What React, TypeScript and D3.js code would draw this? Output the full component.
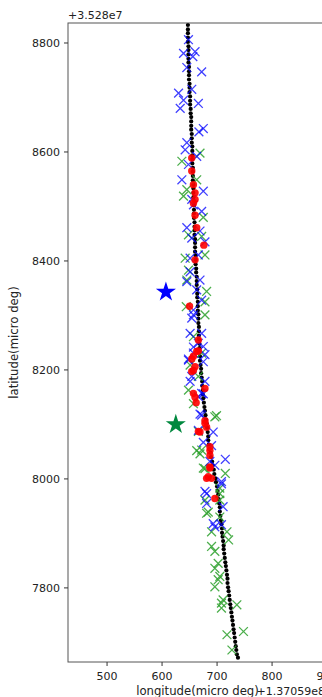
import * as d3 from 'd3';

const W = 322;
const H = 697;
const [mt, ml] = [23, 68];
const axRight = 329;
const axBottom = 662;

// track (black dots), offset from +1.37059e8 / +3.528e7
const trackLat = [
  8833, 8825, 8818, 8810, 8802, 8794, 8787, 8779, 8771, 8764, 8756, 8748, 8741, 8733, 8725, 8718, 8710, 8702, 8694, 8687,
  8679, 8671, 8664, 8656, 8648, 8641, 8633, 8625, 8617, 8610, 8602, 8594, 8587, 8579, 8571, 8564, 8556, 8548, 8540, 8533,
  8525, 8517, 8510, 8502, 8494, 8487, 8479, 8471, 8463, 8456, 8448, 8440, 8433, 8425, 8417, 8410, 8402, 8394, 8386, 8379,
  8371, 8363, 8356, 8348, 8340, 8333, 8325, 8317, 8309, 8302, 8294, 8286, 8279, 8271, 8263, 8256, 8248, 8240, 8232, 8225,
  8217, 8209, 8202, 8194, 8186, 8179, 8171, 8163, 8155, 8148, 8140, 8132, 8125, 8117, 8109, 8102, 8094, 8086, 8078, 8071,
  8063, 8055, 8048, 8040, 8032, 8025, 8017, 8009, 8001, 7994, 7986, 7978, 7971, 7963, 7955, 7948, 7940, 7932, 7924, 7917,
  7909, 7901, 7894, 7886, 7878, 7871, 7863, 7855, 7847, 7840, 7832, 7824, 7817, 7809, 7801, 7794, 7786, 7778, 7770, 7763,
  7755, 7747, 7740, 7732, 7724, 7717, 7709, 7701, 7693, 7686, 7678, 7672,
];
const trackLon = [
  647, 647, 647, 647, 647, 648, 648, 648, 648, 648, 649, 649, 649, 649, 650, 650, 650, 651, 651, 651,
  652, 652, 653, 653, 653, 653, 654, 654, 654, 655, 655, 655, 655, 655, 656, 656, 656, 656, 657, 657,
  657, 657, 658, 658, 658, 658, 658, 659, 659, 659, 659, 660, 660, 660, 660, 661, 661, 661, 662, 662,
  663, 663, 663, 664, 664, 664, 665, 665, 665, 666, 666, 666, 667, 667, 667, 667, 668, 668, 668, 669,
  669, 670, 671, 671, 672, 673, 673, 674, 674, 675, 676, 677, 678, 679, 680, 681, 682, 683, 684, 684,
  685, 686, 688, 689, 691, 692, 694, 695, 697, 698, 700, 701, 702, 703, 704, 705, 705, 706, 707, 708,
  709, 709, 710, 711, 712, 712, 713, 714, 715, 716, 717, 718, 719, 719, 720, 721, 722, 723, 724, 725,
  726, 727, 728, 729, 730, 731, 732, 733, 734, 735, 736, 738,
];

const blueX: [number, number][] = [
  [648, 8806], [639, 8781], [660, 8784], [656, 8775], [645, 8755], [672, 8747], [654, 8715], [630, 8708],
  [639, 8695], [633, 8680], [666, 8689], [675, 8643], [667, 8637], [645, 8617], [642, 8604], [663, 8592],
  [648, 8577], [636, 8549], [675, 8528], [654, 8513], [657, 8503], [672, 8491], [645, 8461], [669, 8455],
  [654, 8442], [678, 8435], [651, 8405], [666, 8411], [651, 8380], [645, 8362], [669, 8365], [663, 8347],
  [672, 8328], [657, 8310], [657, 8301], [654, 8295], [651, 8267], [672, 8267], [666, 8249], [675, 8243],
  [657, 8231], [678, 8228], [648, 8218], [675, 8215], [654, 8188], [651, 8179], [678, 8179], [672, 8157],
  [666, 8151], [657, 8242], [648, 8220], [675, 8156], [669, 8119], [693, 8086], [666, 8089], [675, 8067],
  [690, 8061], [672, 8117], [687, 8032], [715, 8036], [708, 7995], [678, 7977], [681, 7955], [711, 7949],
  [696, 7912], [708, 7916], [696, 8025], [708, 7991], [681, 7973], [693, 7918],
];

const greenX: [number, number][] = [
  [669, 8598], [636, 8583], [663, 8549], [645, 8531], [639, 8519], [675, 8480], [648, 8448], [672, 8445],
  [642, 8405], [678, 8411], [648, 8383], [645, 8365], [681, 8344], [678, 8325], [644, 8316], [678, 8301],
  [657, 8261], [672, 8231], [651, 8209], [666, 8188], [648, 8163], [657, 8138], [699, 8116], [663, 8052],
  [696, 8114], [672, 8053], [675, 8020], [715, 8010], [705, 7983], [678, 7961], [705, 7961], [681, 7937],
  [690, 7903], [718, 7903], [721, 7888], [690, 7876], [696, 7867], [702, 7845], [696, 7836], [702, 7815],
  [696, 7802], [669, 8046], [678, 8019], [705, 7973], [684, 7939], [705, 7930], [705, 7821], [711, 7778],
  [708, 7772], [708, 7763], [736, 7769], [718, 7714], [748, 7720], [727, 7686], [666, 8087],
];

const redDots: [number, number][] = [
  [654, 8589], [654, 8565], [657, 8540], [660, 8525], [660, 8513], [660, 8484], [663, 8461], [657, 8506],
  [676, 8429], [660, 8402], [650, 8317], [666, 8255], [663, 8234], [657, 8225], [660, 8206], [654, 8197],
  [657, 8157], [678, 8166], [666, 8235], [654, 8220], [657, 8199], [660, 8150], [662, 8140], [678, 8107],
  [681, 8095], [669, 8086], [687, 8052], [678, 8102], [666, 8087], [687, 8059], [687, 8020], [690, 8001],
  [681, 8001], [696, 7964], [687, 8043], [687, 8022], [684, 8004],
];

const blueStar: [number, number] = [607, 8343];
const greenStar: [number, number] = [625, 8100];

const xTicks = [500, 600, 700, 800, 900];
const yTicks = [7800, 8000, 8200, 8400, 8600, 8800];

export default function App() {
  const x = d3.scaleLinear().domain([429, 903.5]).range([ml, axRight]);
  const y = d3.scaleLinear().domain([7664, 8836.7]).range([axBottom, mt]);
  const star = d3.symbol().type(d3.symbolStar).size(125)();
  const xs = 4.4;
  const font = 'DejaVu Sans, sans-serif';

  const cross = (p: [number, number], i: number, color: string, op: number) => {
    const cx = x(p[0]);
    const cy = y(p[1]);
    return (
      <path
        key={i}
        d={`M${cx - xs},${cy - xs}L${cx + xs},${cy + xs}M${cx - xs},${cy + xs}L${cx + xs},${cy - xs}`}
        stroke={color}
        strokeWidth={1.3}
        strokeOpacity={op}
        fill="none"
      />
    );
  };

  return (
    <svg
      width={W}
      height={H}
      style={{ position: 'absolute', left: 0, top: 0, background: '#fff' }}
      fontFamily={font}
    >
      <defs>
        <clipPath id="ax">
          <rect x={ml} y={mt} width={axRight - ml} height={axBottom - mt} />
        </clipPath>
      </defs>
      <g clipPath="url(#ax)">
        {trackLat.map((lat, i) => (
          <circle key={i} cx={x(trackLon[i])} cy={y(lat)} r={2.1} fill="#000" />
        ))}
        {greenX.map((p, i) => cross(p, i, '#2ca02c', 0.85))}
        {blueX.map((p, i) => cross(p, i, '#0000ff', 0.75))}
        {redDots.map((p, i) => (
          <circle key={i} cx={x(p[0])} cy={y(p[1])} r={3.7} fill="#ff0000" fillOpacity={0.9} />
        ))}
        <path d={star!} transform={`translate(${x(blueStar[0])},${y(blueStar[1])})`} fill="#0000ff" />
        <path d={star!} transform={`translate(${x(greenStar[0])},${y(greenStar[1])})`} fill="#00883e" />
      </g>

      <rect x={ml} y={mt} width={axRight - ml} height={axBottom - mt} fill="none" stroke="#555" strokeWidth={1} />

      {xTicks.map((t) => (
        <g key={t} transform={`translate(${x(t)},${axBottom})`}>
          <line y2={4} stroke="#333" />
          <text y={18} textAnchor="middle" fontSize={11} fill="#222">
            {t}
          </text>
        </g>
      ))}
      {yTicks.map((t) => (
        <g key={t} transform={`translate(${ml},${y(t)})`}>
          <line x2={-4} stroke="#333" />
          <text x={-8} dy="0.35em" textAnchor="end" fontSize={11} fill="#222">
            {t}
          </text>
        </g>
      ))}

      <text x={ml} y={19} fontSize={11} fill="#222">
        +3.528e7
      </text>
      <text x={(ml + axRight) / 2 - 1} y={695} textAnchor="middle" fontSize={11.7} fill="#222">
        longitude(micro deg)
      </text>
      <text x={325} y={695} textAnchor="end" fontSize={11} fill="#222">
        +1.37059e8
      </text>
      <text
        transform={`translate(18,${(mt + axBottom) / 2}) rotate(-90)`}
        textAnchor="middle"
        fontSize={11.7}
        fill="#222"
      >
        latitude(micro deg)
      </text>
    </svg>
  );
}
